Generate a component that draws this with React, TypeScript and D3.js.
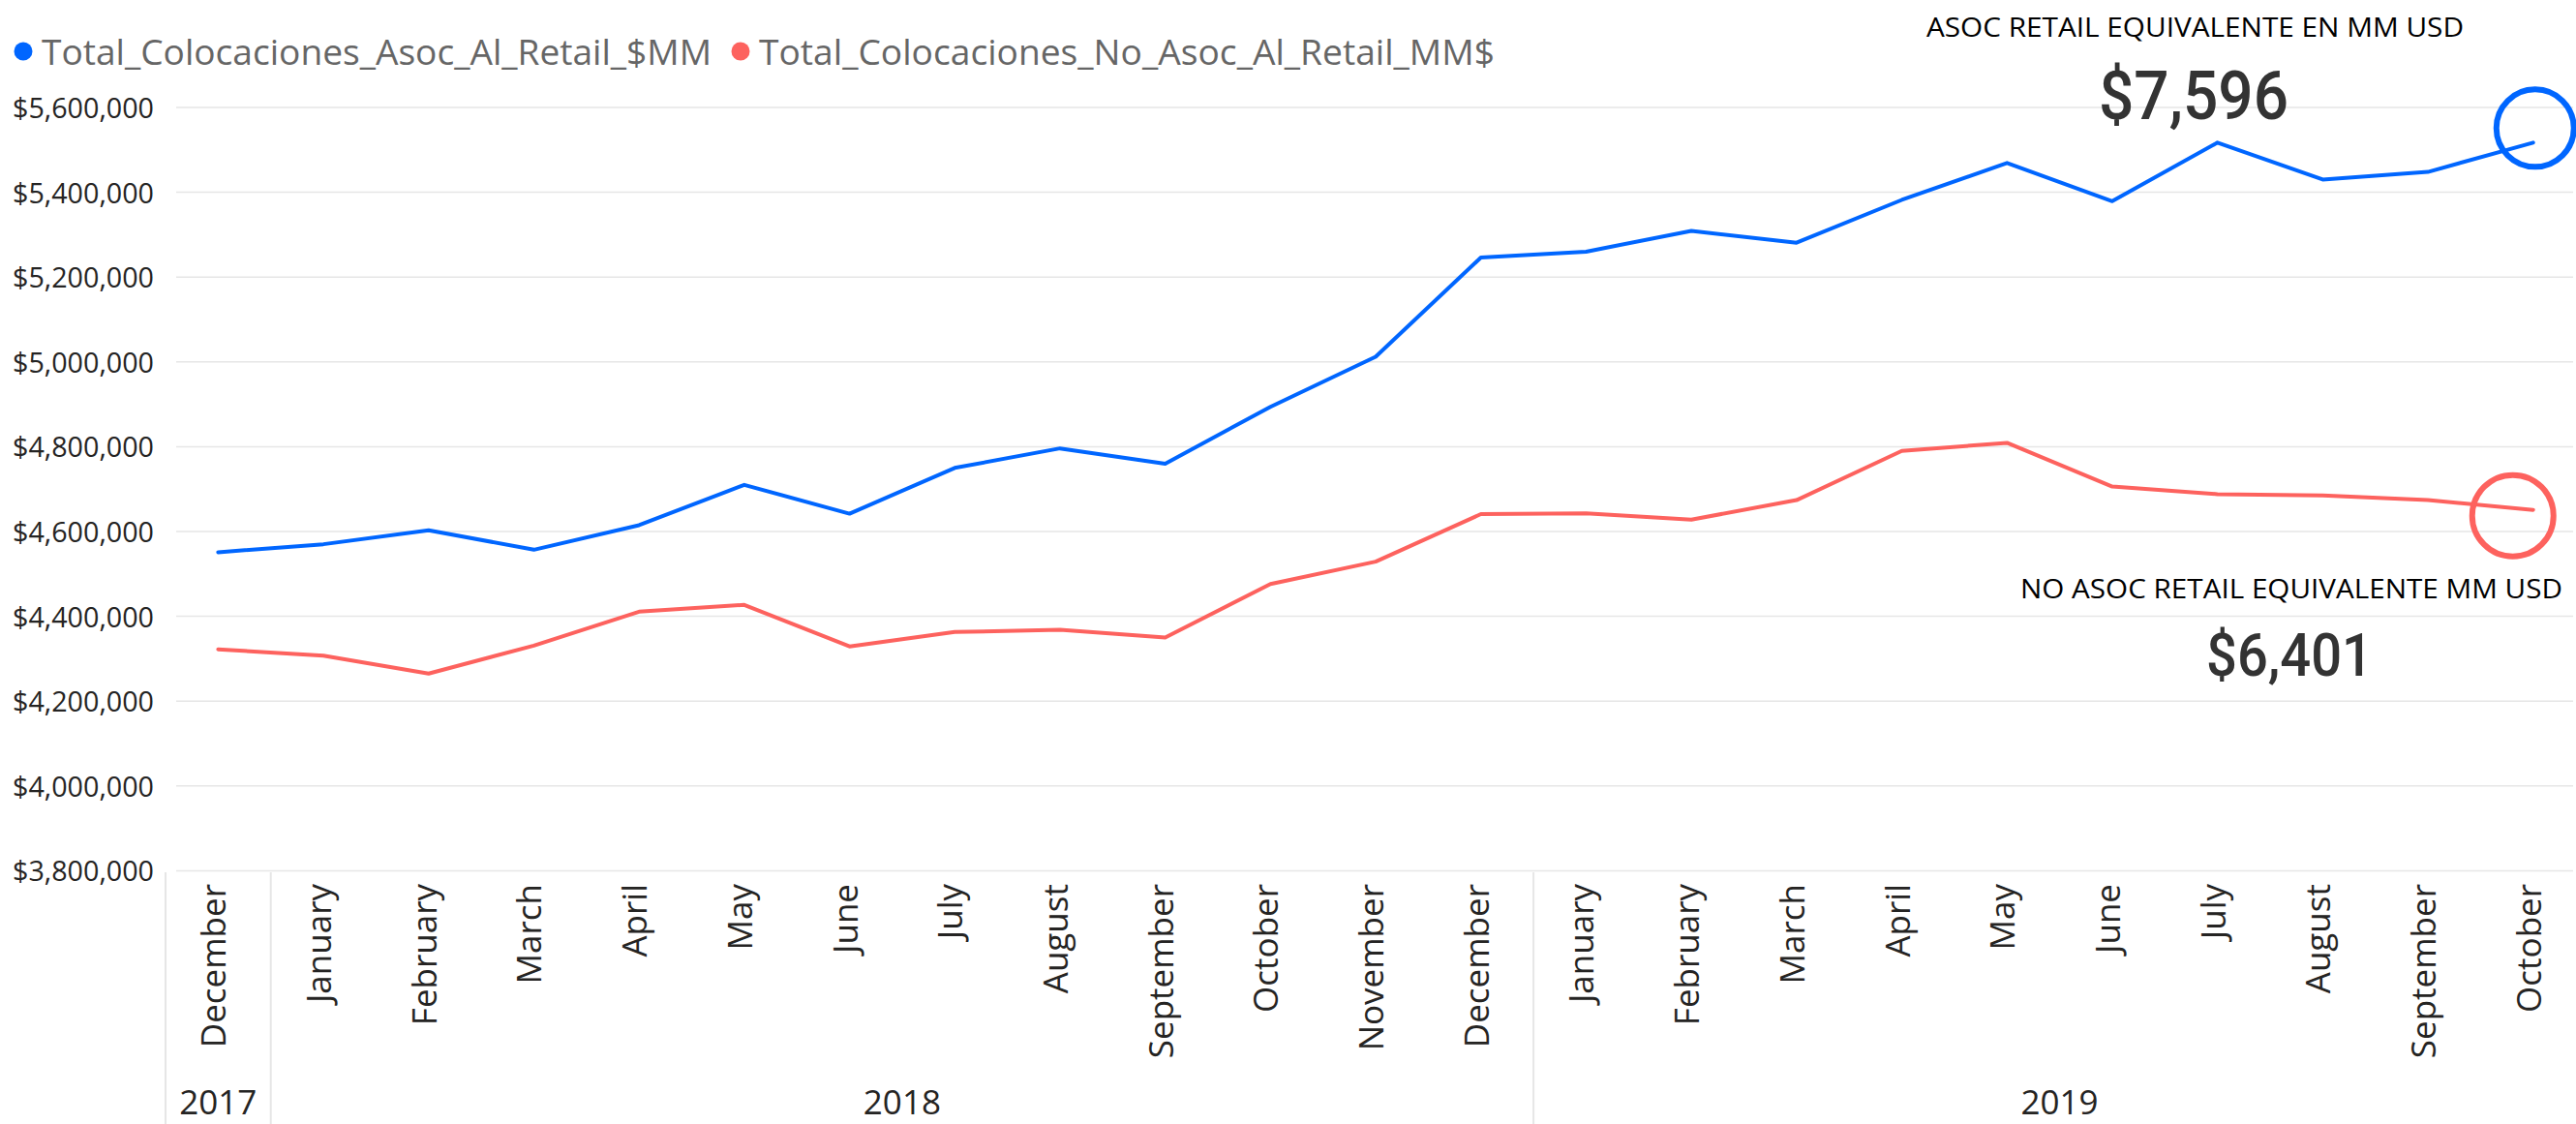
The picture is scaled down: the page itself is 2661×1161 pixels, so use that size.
import React from "react";
import * as d3 from "d3";

const months: string[] = [
  "December",
  "January", "February", "March", "April", "May", "June", "July", "August", "September", "October", "November", "December",
  "January", "February", "March", "April", "May", "June", "July", "August", "September", "October",
];
const years: string[] = ["2017", "2018", "2019"];
const yearCounts: number[] = [1, 12, 10];

const asocRetail: number[] = [
  4551000, 4570000, 4603000, 4557000, 4615000, 4710000, 4642000, 4750000, 4796000, 4760000, 4894000, 5012000, 5246000,
  5260000, 5309000, 5281000, 5382000, 5469000, 5379000, 5517000, 5430000, 5448000, 5517000,
];
const noAsocRetail: number[] = [
  4322000, 4307000, 4265000, 4331000, 4411000, 4427000, 4329000, 4363000, 4368000, 4350000, 4476000, 4529000, 4641000,
  4643000, 4628000, 4674000, 4790000, 4809000, 4706000, 4688000, 4685000, 4674000, 4651000,
];
const yTicks: number[] = [3800000, 4000000, 4200000, 4400000, 4600000, 4800000, 5000000, 5200000, 5400000, 5600000];

const seriesNames: string[] = ["Total_Colocaciones_Asoc_Al_Retail_$MM", "Total_Colocaciones_No_Asoc_Al_Retail_MM$"];
const cardTitles: string[] = ["ASOC RETAIL EQUIVALENTE EN MM USD", "NO ASOC RETAIL EQUIVALENTE MM USD"];
const cardValues: string[] = ["$7,596", "$6,401"];

const W = 2661;
const H = 1161;
const BLUE = "#0066FF";
const RED = "#FD625E";
const FONT = "'Segoe UI', 'Open Sans', sans-serif";

export default function App() {
  const step = 108.7;
  const x0 = 171;
  const x = d3
    .scaleBand<number>()
    .domain(months.map((_, i) => i))
    .range([x0, x0 + months.length * step])
    .padding(0);
  const cx = (i: number) => (x(i) as number) + x.bandwidth() / 2;
  const y = d3.scaleLinear().domain([3800000, 5600000]).range([899.4, 111]);
  const fmt = (v: number) => "$" + d3.format(",")(v);

  const line = d3
    .line<number>()
    .x((_, i) => cx(i))
    .y((d) => y(d));

  const gridX1 = 182;
  const gridX2 = 2658;
  const axisTop = 901;

  const yearStarts: number[] = [];
  let acc = 0;
  yearCounts.forEach((c) => {
    yearStarts.push(acc);
    acc += c;
  });

  const lastI = months.length - 1;

  return (
    <svg
      width={W}
      height={H}
      style={{ position: "absolute", left: 0, top: 0, background: "#fff" }}
      fontFamily={FONT}
    >
      <rect x={0} y={0} width={W} height={H} fill="#fff" />
      {/* legend */}
      <circle cx={24} cy={53} r={9.5} fill={BLUE} />
      <text x={43} y={67} fontSize={36} fill="#666666" textLength={692} lengthAdjust="spacingAndGlyphs">
        {seriesNames[0]}
      </text>
      <circle cx={765} cy={53} r={9.5} fill={RED} />
      <text x={784} y={67} fontSize={36} fill="#666666" textLength={760} lengthAdjust="spacingAndGlyphs">
        {seriesNames[1]}
      </text>

      {/* gridlines */}
      {yTicks.map((t) => (
        <line key={t} x1={gridX1} x2={gridX2} y1={y(t)} y2={y(t)} stroke="#E6E6E6" strokeWidth={1.5} />
      ))}
      {/* y labels */}
      {yTicks.map((t) => (
        <text
          key={"l" + t}
          x={159}
          y={y(t) + 11}
          fontSize={30}
          fill="#252423"
          textAnchor="end"
          textLength={146}
          lengthAdjust="spacingAndGlyphs"
        >
          {fmt(t)}
        </text>
      ))}

      {/* x axis borders */}
      <line x1={x0} x2={x0} y1={axisTop} y2={H} stroke="#E6E6E6" strokeWidth={2} />
      {yearStarts.slice(1).map((s) => (
        <line key={"s" + s} x1={x(s) as number} x2={x(s) as number} y1={axisTop} y2={H} stroke="#E6E6E6" strokeWidth={2} />
      ))}
      {/* month labels */}
      {months.map((m, i) => (
        <text
          key={"m" + i}
          transform={`translate(${cx(i) + 8},913) rotate(-90)`}
          fontSize={35}
          fill="#252423"
          textAnchor="end"
        >
          {m}
        </text>
      ))}
      {/* year labels */}
      {years.map((yr, k) => {
        const s = yearStarts[k];
        const e = s + yearCounts[k] - 1;
        const mid = ((x(s) as number) + (x(e) as number) + x.bandwidth()) / 2;
        return (
          <text key={yr} x={mid} y={1151} fontSize={35} fill="#252423" textAnchor="middle">
            {yr}
          </text>
        );
      })}

      {/* lines */}
      <path d={line(noAsocRetail) || ""} fill="none" stroke={RED} strokeWidth={4} strokeLinejoin="round" strokeLinecap="round" />
      <path d={line(asocRetail) || ""} fill="none" stroke={BLUE} strokeWidth={4} strokeLinejoin="round" strokeLinecap="round" />

      {/* highlight circles */}
      <circle cx={cx(lastI) + 2} cy={y(asocRetail[lastI]) - 15} r={40} fill="none" stroke={BLUE} strokeWidth={6} />
      <circle cx={cx(lastI) - 21} cy={y(noAsocRetail[lastI]) + 6} r={42} fill="none" stroke={RED} strokeWidth={6} />

      {/* cards */}
      <text x={1990} y={38} fontSize={28} fill="#000" textLength={555} lengthAdjust="spacingAndGlyphs">
        {cardTitles[0]}
      </text>
      <text
        x={2168}
        y={123}
        fontSize={70}
        fontWeight={500}
        fill="#333333"
        fontFamily="Roboto, 'DejaVu Sans', sans-serif"
        textLength={196}
        lengthAdjust="spacingAndGlyphs"
      >
        {cardValues[0]}
      </text>
      <text x={2087} y={618} fontSize={28} fill="#000" textLength={560} lengthAdjust="spacingAndGlyphs">
        {cardTitles[1]}
      </text>
      <text
        x={2279}
        y={698}
        fontSize={61}
        fontWeight={500}
        fill="#333333"
        fontFamily="Roboto, 'DejaVu Sans', sans-serif"
        textLength={172}
        lengthAdjust="spacingAndGlyphs"
      >
        {cardValues[1]}
      </text>
    </svg>
  );
}
